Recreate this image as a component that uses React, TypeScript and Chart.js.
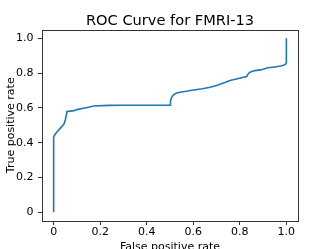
import React, { useEffect, useRef } from "react";
import { Chart, registerables } from "chart.js";

Chart.register(...registerables);

const titleText = "ROC Curve for FMRI-13";
const xLabel = "False positive rate";
const yLabel = "True positive rate";
const tickValues = [0, 0.2, 0.4, 0.6, 0.8, 1.0];

const fpr = [0, 0, 0.004, 0.009, 0.02, 0.03, 0.038, 0.045, 0.05, 0.058, 0.07, 0.087, 0.1, 0.122, 0.15, 0.172, 0.236, 0.3, 0.4, 0.5, 0.502, 0.507, 0.515, 0.528, 0.544, 0.57, 0.601, 0.64, 0.672, 0.7, 0.736, 0.758, 0.79, 0.829, 0.836, 0.843, 0.865, 0.89, 0.921, 0.95, 0.975, 0.995, 1.0, 1.0, 1.0];
const tpr = [0, 0.433, 0.443, 0.452, 0.47, 0.485, 0.497, 0.508, 0.53, 0.58, 0.581, 0.584, 0.59, 0.596, 0.603, 0.611, 0.614, 0.615, 0.615, 0.615, 0.64, 0.66, 0.675, 0.685, 0.69, 0.695, 0.703, 0.71, 0.718, 0.728, 0.745, 0.757, 0.767, 0.78, 0.795, 0.805, 0.814, 0.818, 0.83, 0.835, 0.84, 0.848, 0.86, 0.93, 1.0];

const frame = {
  id: "frame",
  afterDatasetsDraw(chart: any) {
    const { ctx, chartArea } = chart;
    ctx.save();
    ctx.strokeStyle = "#333";
    ctx.lineWidth = 1;
    ctx.strokeRect(
      Math.round(chartArea.left) + 0.5,
      Math.round(chartArea.top) + 0.5,
      Math.round(chartArea.right - chartArea.left),
      Math.round(chartArea.bottom - chartArea.top)
    );
    ctx.restore();
  },
};

export default function App() {
  const ref = useRef<HTMLCanvasElement | null>(null);
  useEffect(() => {
    if (!ref.current) return;
    const font = { family: "'DejaVu Sans', sans-serif", size: 11 };
    const chart = new Chart(ref.current, {
      type: "scatter",
      data: {
        datasets: [
          {
            data: fpr.map((x, i) => ({ x, y: tpr[i] })),
            showLine: true,
            borderColor: "#1f77b4",
            borderWidth: 1.6,
            pointRadius: 0,
            tension: 0,
            fill: false,
          },
        ],
      },
      plugins: [frame],
      options: {
        animation: false,
        responsive: false,
        devicePixelRatio: 1,
        layout: { padding: { left: 0, right: 34, top: 0, bottom: 0 } },
        plugins: {
          legend: { display: false },
          tooltip: { enabled: false },
          title: {
            display: true,
            text: titleText,
            fullSize: false,
            color: "#000",
            font: { family: "'DejaVu Sans', sans-serif", size: 14.6, weight: "normal" },
            padding: { top: 12, bottom: 0 },
          },
        },
        scales: {
          x: {
            type: "linear",
            min: -0.05,
            max: 1.05,
            afterBuildTicks: (s: any) => {
              s.ticks = tickValues.map((v) => ({ value: v }));
            },
            afterFit: (s: any) => {
              s.height = 28;
            },
            ticks: {
              color: "#000",
              font,
              padding: 1,
              maxRotation: 0,
              callback: (v: any) => (v === 0 ? "0" : Number(v).toFixed(1)),
            },
            grid: { drawOnChartArea: false, drawTicks: true, tickLength: 4, color: "#333" },
            border: { display: false },
            title: { display: true, text: xLabel, color: "#000", font, padding: { top: 0, bottom: -5 } },
          },
          y: {
            type: "linear",
            min: -0.05,
            max: 1.05,
            afterBuildTicks: (s: any) => {
              s.ticks = tickValues.map((v) => ({ value: v }));
            },
            afterFit: (s: any) => {
              s.width = 42;
            },
            ticks: {
              color: "#000",
              font,
              padding: 4.5,
              callback: (v: any) => (v === 0 ? "0" : Number(v).toFixed(1)),
            },
            grid: { drawOnChartArea: false, drawTicks: true, tickLength: 4, color: "#333" },
            border: { display: false },
            title: { display: true, text: yLabel, color: "#000", font, padding: { top: 5, bottom: 0 } },
          },
        },
      },
    });
    return () => chart.destroy();
  }, []);
  return (
    <div style={{ position: "fixed", left: 0, top: 0, width: 332, height: 249, background: "#fff" }}>
      <canvas ref={ref} width={332} height={249} style={{ width: 332, height: 249, display: "block" }} />
    </div>
  );
}
